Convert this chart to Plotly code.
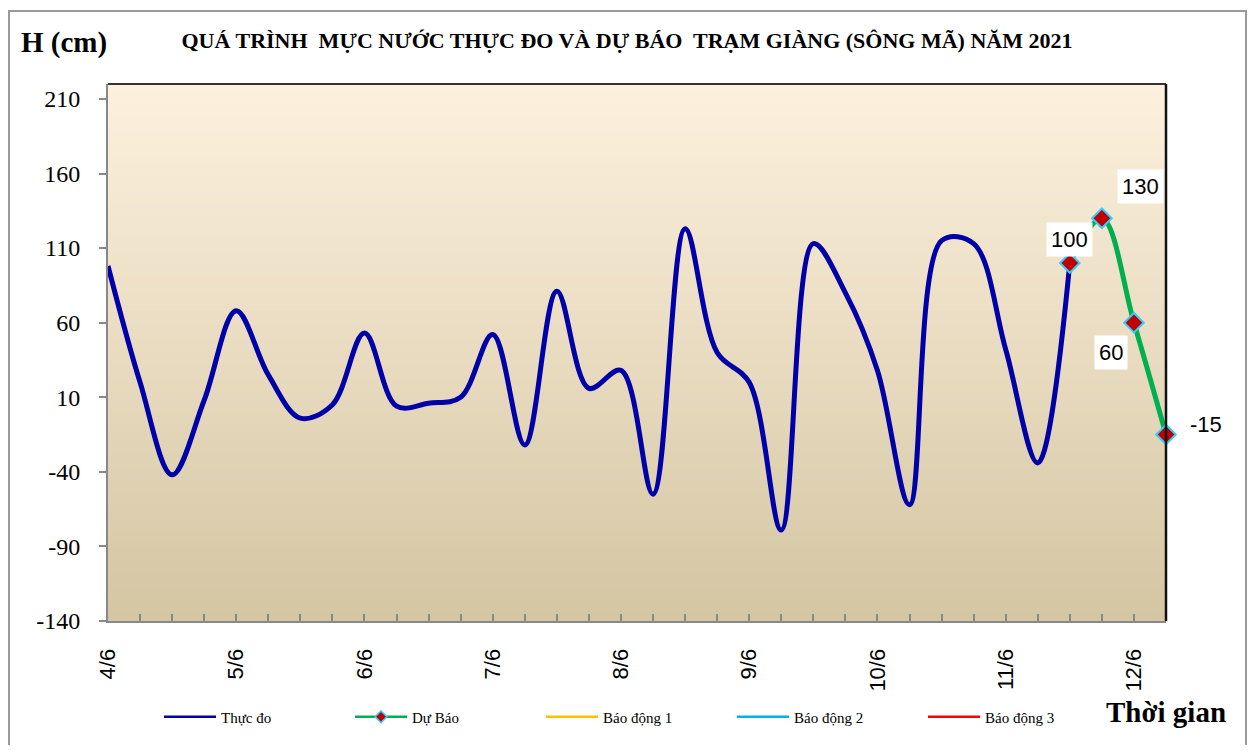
import plotly.graph_objects as go

# ---- data ----
day_labels = ["4/6", "5/6", "6/6", "7/6", "8/6", "9/6", "10/6", "11/6", "12/6"]
points_per_day = 4

# observed water level (cm), one value per 6 h step starting at 4/6
thuc_do = [98, 20, -42, 8, 68, 25, -4, 5, 53, 4, 6, 10, 52, -22, 81, 16,
           28, -55, 123, 40, 20, -79, 113, 80, 28, -62, 115, 113, 42, -34, 100]
# forecast (cm), continues from the last observed point
du_bao = [100, 130, 60, -15]

y_min, y_max, y_step = -140, 220, 50
y_ticks = list(range(y_min, y_max, y_step))

# ---- positions on the category axis ----
x_obs = list(range(len(thuc_do)))
x_fc = list(range(len(thuc_do) - 1, len(thuc_do) - 1 + len(du_bao)))
n_steps = x_fc[-1]

tickvals = list(range(n_steps + 1))
ticktext = [day_labels[i // points_per_day] if i % points_per_day == 0 and i // points_per_day < len(day_labels) else ""
            for i in tickvals]

serif = "Liberation Serif, Times New Roman, serif"
sans = "Liberation Sans, Arial, sans-serif"

# page has an 8px body margin, figure laid out in figure pixels
OFF = 8
W, H = 1257 - 2 * OFF, 753 - 2 * OFF
ML, MT, PW, PH = 100, 76, 1058, 537


def px(x):
    return (x - OFF - ML) / PW


def py(y):
    return (MT + PH - (y - OFF)) / PH


fig = go.Figure()

fig.add_trace(go.Scatter(
    x=x_obs, y=thuc_do, name="Thực đo", mode="lines", showlegend=False,
    line=dict(color="#0000A8", width=5, shape="spline", smoothing=1.0),
))
fig.add_trace(go.Scatter(
    x=x_fc, y=du_bao, name="Dự Báo", mode="lines+markers", showlegend=False,
    line=dict(color="#00B050", width=5, shape="spline", smoothing=1.0),
    marker=dict(symbol="diamond", size=15, color="#C00000",
                line=dict(color="#33CCFF", width=2)),
    cliponaxis=False,
))

# legend entries (thin lines as in the original legend)
fig.add_trace(go.Scatter(x=[None], y=[None], name="Thực đo", mode="lines",
                         line=dict(color="#0000A8", width=2.5)))
fig.add_trace(go.Scatter(x=[None], y=[None], name="Dự Báo", mode="lines+markers",
                         line=dict(color="#00B050", width=2.5),
                         marker=dict(symbol="diamond", size=9, color="#C00000",
                                     line=dict(color="#33CCFF", width=1.5))))
# alarm levels are above the shown range, only their legend entries are visible
for name, col in [("Báo động 1", "#FFC000"), ("Báo động 2", "#00B0F0"), ("Báo động 3", "#FF0000")]:
    fig.add_trace(go.Scatter(x=[None], y=[None], name=name, mode="lines",
                             line=dict(color=col, width=2.5)))

# value labels of the forecast points
label_shift = [(0, 24, True), (39, 32, True), (-23, -30, True), (40, 10, False)]
for xv, yv, (dx, dy, box) in zip(x_fc, du_bao, label_shift):
    fig.add_annotation(x=xv, y=yv, xref="x", yref="y", text=str(yv), showarrow=False,
                       xshift=dx, yshift=dy, font=dict(family=sans, size=22, color="black"),
                       bgcolor="white" if box else "rgba(0,0,0,0)", borderpad=4)

# vertical gradient background of the plot area
top_rgb = (253, 241, 222)
bot_rgb = (212, 198, 163)
n_band = 80
shapes = []
for i in range(n_band):
    t = i / (n_band - 1)
    c = tuple(int(round(top_rgb[k] + (bot_rgb[k] - top_rgb[k]) * t)) for k in range(3))
    shapes.append(dict(type="rect", xref="x domain", yref="y domain", layer="below",
                       x0=0, x1=1, y0=1 - (i + 1) / n_band, y1=1 - i / n_band + 0.002,
                       fillcolor="rgb(%d,%d,%d)" % c, line_width=0))
# top and right border of plot area
shapes.append(dict(type="line", xref="x domain", yref="y domain", x0=0, x1=1, y0=1, y1=1,
                   line=dict(color="#333333", width=2)))
shapes.append(dict(type="line", xref="x domain", yref="y domain", x0=1, x1=1, y0=0, y1=1,
                   line=dict(color="#111111", width=2.5)))
# outer chart frame
shapes.append(dict(type="rect", xref="paper", yref="paper",
                   x0=px(9), x1=px(1246), y0=py(790), y1=py(11),
                   line=dict(color="#999999", width=2), fillcolor="rgba(0,0,0,0)"))
fig.update_layout(shapes=shapes)

fig.add_annotation(xref="paper", yref="paper", x=px(19), y=py(43),
                   xanchor="left", yanchor="middle", showarrow=False,
                   text="<b>H (cm)</b>", font=dict(family=serif, size=29, color="black"))
fig.add_annotation(xref="paper", yref="paper", x=px(1166), y=py(712),
                   xanchor="center", yanchor="middle", showarrow=False,
                   text="<b>Thời gian</b>", font=dict(family=serif, size=29, color="black"))

fig.update_layout(
    width=W, height=H, autosize=False,
    margin=dict(l=ML, r=W - ML - PW, t=MT, b=H - MT - PH),
    paper_bgcolor="white", plot_bgcolor="rgb(240,230,205)",
    title=dict(text="<b>QUÁ TRÌNH  MỰC NƯỚC THỰC ĐO VÀ DỰ BÁO  TRẠM GIÀNG (SÔNG MÃ) NĂM 2021</b>",
               x=(627 - OFF) / W, xanchor="center", xref="container",
               y=1 - (40 - OFF) / H, yanchor="middle",
               font=dict(family=serif, size=22, color="black")),
    showlegend=True,
    legend=dict(orientation="h", x=px(159), xanchor="left",
                y=py(717), yanchor="middle",
                font=dict(family=serif, size=15, color="black"),
                itemwidth=52, entrywidth=124, entrywidthmode="pixels",
                bgcolor="rgba(0,0,0,0)", traceorder="normal"),
)

fig.update_xaxes(
    range=[0, n_steps], tickmode="array", tickvals=tickvals, ticktext=ticktext,
    tickangle=-90, ticks="inside", ticklen=7, tickcolor="#888888", tickwidth=1.5,
    showline=True, linecolor="#888888", linewidth=2, showgrid=False, zeroline=False,
    tickfont=dict(family=sans, size=22, color="black"), ticklabelstandoff=17,
)
fig.update_yaxes(
    range=[y_min, y_max], tickmode="array", tickvals=y_ticks,
    ticktext=[str(v) for v in y_ticks],
    ticks="outside", ticklen=7, tickcolor="#888888", tickwidth=1.5,
    showline=True, linecolor="#888888", linewidth=2, showgrid=False, zeroline=False,
    tickfont=dict(family=serif, size=24, color="black"), ticklabelstandoff=14,
)

fig.write_html("out.html")
